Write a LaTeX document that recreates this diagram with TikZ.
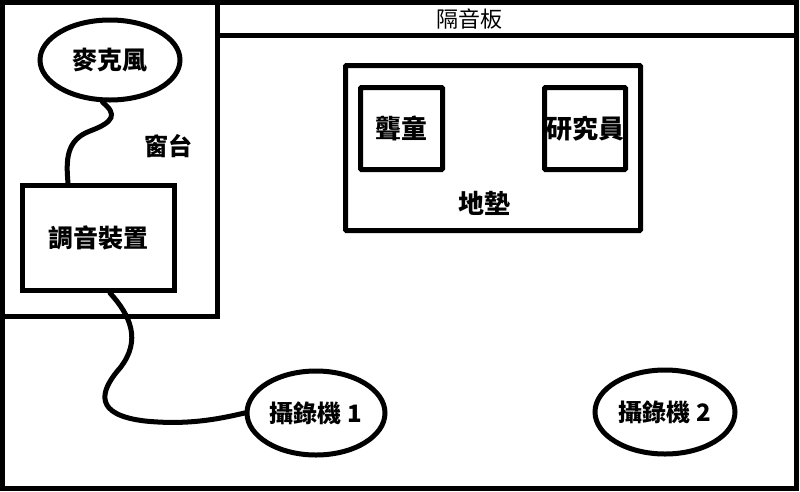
\documentclass[tikz,border=0pt]{standalone}
\usepackage{fontspec}
\setmainfont{Noto Sans CJK TC}
\usetikzlibrary{shapes.geometric}
\begin{document}
\begin{tikzpicture}[x=1pt,y=-1pt,
  wall/.style={line width=5pt},
  oval/.style={ellipse,draw,line width=5pt,minimum width=140pt,minimum height=80pt,inner sep=0pt,font=\fontsize{24}{26}\selectfont\bfseries},
  boxnode/.style={draw,line width=5pt,inner sep=0pt,font=\fontsize{25}{27}\selectfont\bfseries},
  lbl/.style={inner sep=0pt,font=\fontsize{24}{26}\selectfont\bfseries},
  cable/.style={line width=5pt,line cap=round}]
\useasboundingbox (0,0) rectangle (800,491);
% walls
\draw[wall] (2.5,2.5) rectangle (796,488);
\draw[wall] (217.5,2.5) -- (217.5,316.5) -- (2.5,316.5);
\draw[wall] (217.5,35) -- (796,35);
\draw[wall,rounded corners=1pt] (345.5,65.5) rectangle (640.5,230.5);
% nodes
\node[oval,font=\fontsize{25}{27}\selectfont\bfseries] (mic) at (110,60) {麥克風};
\node[boxnode,minimum width=152pt,minimum height=105pt] (mixer) at (98.5,238) {調音裝置};
\node[boxnode,rounded corners=1pt,minimum width=82pt,minimum height=82pt,font=\fontsize{26}{28}\selectfont\bfseries] (child) at (401.5,128.5) {聾童};
\node[boxnode,rounded corners=1pt,minimum width=81pt,minimum height=82pt,font=\fontsize{26}{28}\selectfont\bfseries] (res) at (585,128.5) {研究員};
\node[oval,minimum width=138pt,minimum height=84pt] (cam1) at (316,413) {攝錄機 1};
\node[oval,minimum width=140pt,minimum height=84pt] (cam2) at (665,412) {攝錄機 2};
\node[lbl] (window) at (168,146) {窗台};
\node[lbl,font=\fontsize{22}{24}\selectfont] (panel) at (469,19) {隔音板};
\node[lbl,font=\fontsize{26}{28}\selectfont\bfseries] (mat) at (484,203) {地墊};
% cables
\draw[cable] (mic.-100) .. controls +(15,12) and (114,122) .. (90,131)
  .. controls (66,140) and (66,160) .. (mixer.north -| 68,0);
\draw[cable] (mixer.south -| 110,0) .. controls (130,315) and (142,340) .. (120,368)
  .. controls (98,393) and (95,415) .. (145,421)
  .. controls (185,425) and (215,420) .. (cam1.west);
\end{tikzpicture}
\end{document}
